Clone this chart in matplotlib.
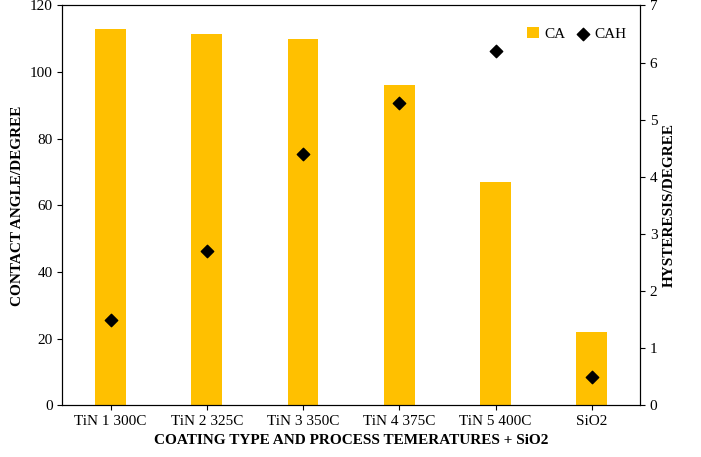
import matplotlib
matplotlib.use("Agg")
import matplotlib.pyplot as plt
import numpy as np

categories = ["TiN 1 300C", "TiN 2 325C", "TiN 3 350C", "TiN 4 375C", "TiN 5 400C", "SiO2"]
ca = [113, 111.5, 110, 96, 67, 22]
cah = [1.5, 2.7, 4.4, 5.3, 6.2, 0.5]

plt.rcParams['font.family'] = ['Liberation Serif', 'DejaVu Serif']
fig = plt.figure(figsize=(7.01, 4.57), dpi=100)
ax = fig.add_axes([0.089, 0.113, 0.824, 0.875])
x = np.arange(len(categories))
b = ax.bar(x, ca, width=0.32, color='#FFC000', label='CA')
ax.set_ylim(0, 120)
ax.set_yticks(range(0, 121, 20))
ax.set_xlim(-0.5, len(categories) - 0.5)
ax.set_xticks(x)
ax.set_xticklabels(categories, fontsize=11)
ax.tick_params(axis='y', labelsize=11)
ax.set_ylabel("CONTACT ANGLE/DEGREE", fontweight='bold', fontsize=11)
ax.set_xlabel("COATING TYPE AND PROCESS TEMERATURES + SiO2", fontweight='bold', fontsize=11)
ax2 = ax.twinx()
s = ax2.scatter(x, cah, marker='D', color='black', s=40, label='CAH', zorder=3)
ax2.set_ylim(0, 7)
ax2.set_yticks(range(0, 8))
ax2.tick_params(axis='y', labelsize=11)
ax2.set_ylabel("HYSTERESIS/DEGREE", fontweight='bold', fontsize=11)
ax2.set_xlim(-0.5, len(categories) - 0.5)
ax2.legend([b, s], ['CA', 'CAH'], loc='upper right', ncol=2, frameon=False,
           fontsize=11, handlelength=0.8, columnspacing=0.8, handletextpad=0.3,
           bbox_to_anchor=(1.0, 0.98))
fig.savefig("out.png", dpi=100)
